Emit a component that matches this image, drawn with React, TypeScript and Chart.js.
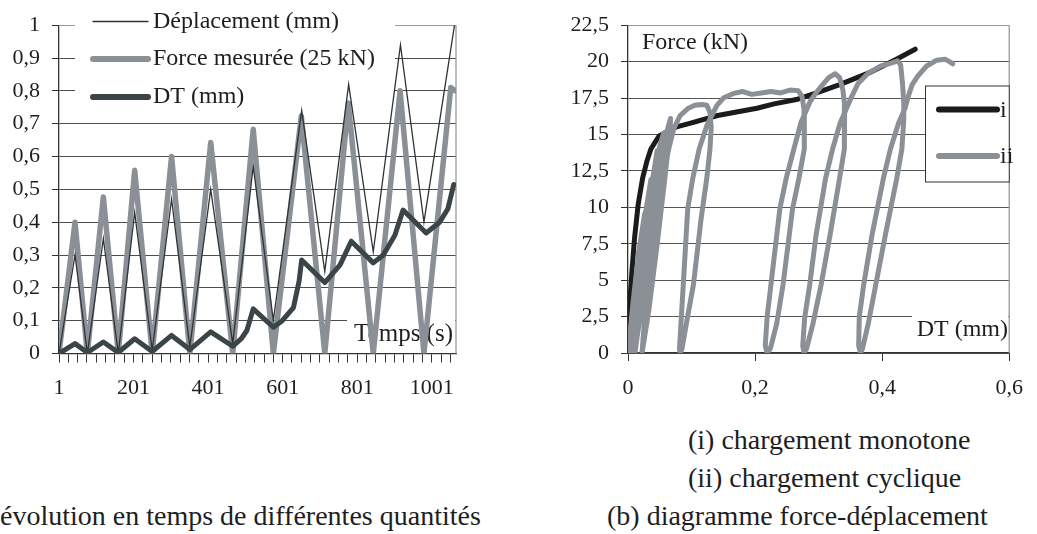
import React, { useEffect, useRef } from 'react';
import { Chart, registerables } from 'chart.js';
Chart.register(...registerables);

const FONT = '"Liberation Serif", "Times New Roman", serif';
const INK = '#1e1e1e';
const GREY = '#8a9096';
const DARK = '#3b4446';

// ---------- (a) time evolution ----------
const timeLabels = [1, 201, 401, 601, 801, 1001];
const timeMin = 1;
const timeMax = 1066;
const timeMinorStep = 25;
const leftSeriesNames = ['Déplacement (mm)', 'Force mesurée (25 kN)', 'DT (mm)'];

const deplT = [1, 44, 77, 120, 160, 204, 251, 303, 352, 408, 467, 522, 576, 652, 714, 778, 844, 917, 980, 1062];
const deplV = [0, 0.30, 0.0, 0.35, 0.0, 0.43, 0.01, 0.47, 0.02, 0.50, 0.03, 0.57, 0.10, 0.74, 0.25, 0.82, 0.31, 0.94, 0.40, 1.0];

const forceT = [1, 44, 77, 120, 160, 204, 251, 303, 352, 408, 467, 522, 576, 651, 714, 777, 844, 916, 980, 1052, 1064];
const forceV = [0, 0.40, 0, 0.477, 0, 0.558, 0, 0.60, 0, 0.643, 0, 0.683, 0, 0.723, 0, 0.763, 0, 0.80, 0, 0.81, 0.80];

const dtT = [1, 44, 77, 120, 160, 204, 251, 303, 352, 408, 467, 490, 505, 522, 576, 600, 630, 645, 652, 714, 755, 785, 844, 871, 902, 924, 986, 1022, 1044, 1060];
const dtV = [0, 0.03, 0.003, 0.035, 0.003, 0.045, 0.006, 0.055, 0.012, 0.066, 0.022, 0.045, 0.07, 0.136, 0.08, 0.10, 0.14, 0.22, 0.285, 0.216, 0.27, 0.342, 0.276, 0.30, 0.36, 0.437, 0.367, 0.40, 0.44, 0.515];

// ---------- (b) force-displacement ----------
const fdSeriesNames = ['i', 'ii'];
const monoX = [0, 0.002, 0.006, 0.0103, 0.016, 0.023, 0.030, 0.036, 0.049, 0.075, 0.100, 0.141, 0.203, 0.230, 0.265, 0.300, 0.332, 0.383, 0.424, 0.452];
const monoY = [0, 2.9, 5.5, 7.9, 10.2, 12.0, 13.2, 14.0, 14.9, 15.5, 15.8, 16.3, 16.8, 17.1, 17.4, 17.9, 18.4, 19.3, 20.2, 20.85];

const cycX = [
  0, 0.008, 0.017, 0.026, 0.030,
  0.027, 0.019, 0.010, 0.003, 0.002,
  0.010, 0.020, 0.029, 0.036,
  0.032, 0.022, 0.012, 0.004, 0.003,
  0.013, 0.025, 0.036, 0.046,
  0.042, 0.031, 0.018, 0.008, 0.006,
  0.017, 0.030, 0.042, 0.050, 0.056,
  0.052, 0.040, 0.026, 0.014, 0.011,
  0.022, 0.035, 0.047, 0.057, 0.063, 0.067,
  0.066, 0.058, 0.046, 0.033, 0.024, 0.022,
  0.028, 0.039, 0.049, 0.057, 0.064, 0.072, 0.082, 0.095, 0.105, 0.116, 0.124, 0.129,
  0.131, 0.129, 0.124, 0.115, 0.103, 0.093, 0.085, 0.082,
  0.081, 0.084, 0.087, 0.094, 0.102, 0.112, 0.124, 0.133, 0.140, 0.150, 0.165, 0.180, 0.195, 0.210, 0.225, 0.240, 0.255, 0.268, 0.274, 0.277,
  0.278, 0.277, 0.269, 0.259, 0.244, 0.234, 0.224, 0.219,
  0.216, 0.219, 0.225, 0.239, 0.249, 0.261, 0.272, 0.280, 0.287, 0.296, 0.306, 0.316, 0.326, 0.333, 0.338, 0.341,
  0.341, 0.340, 0.333, 0.318, 0.304, 0.291, 0.281, 0.277,
  0.275, 0.278, 0.286, 0.296, 0.311, 0.322, 0.334, 0.344, 0.352, 0.362, 0.378, 0.398, 0.414, 0.424, 0.429, 0.432, 0.434,
  0.434, 0.431, 0.423, 0.405, 0.390, 0.378, 0.369, 0.366,
  0.363, 0.364, 0.371, 0.384, 0.402, 0.413, 0.426, 0.436, 0.441, 0.447, 0.456, 0.470, 0.486, 0.499, 0.506, 0.511,
];
const cycY = [
  0, 3.5, 7, 9.5, 10.0,
  8.5, 5.5, 2.5, 0.3, 0,
  3.2, 7, 10, 11.9,
  10, 6.3, 3, 0.5, 0,
  3.8, 7.8, 11.2, 13.9,
  12, 8, 3.8, 0.6, 0,
  4, 8.5, 12, 14.2, 15.1,
  13.5, 9.2, 4.5, 1, 0,
  3.6, 7.8, 11.4, 14.2, 15.5, 16.1,
  15.2, 12, 7.5, 3, 0.5, 0,
  3.4, 6.8, 9.9, 12.4, 14.0, 15.4, 16.3, 16.8, 17.0, 17.06, 17.0, 16.5,
  15.5, 14, 12, 9.2, 4.7, 2.3, 0.3, 0,
  0.3, 2.5, 4.7, 9.9, 12, 14, 15.6, 16.4, 17.0, 17.5, 17.8, 17.95, 17.75, 17.85, 17.95, 17.85, 18.05, 18.0, 17.6, 16.7,
  16, 14, 12, 9.9, 4.7, 2.0, 0.3, 0,
  0.5, 2.5, 4.7, 9.9, 12, 14, 15.8, 16.6, 17.3, 17.86, 18.4, 18.9, 19.17, 18.9, 18.1, 17.0,
  16.0, 14, 12, 8.1, 4.7, 2.0, 0.3, 0,
  0.5, 2.4, 4.7, 8.1, 12, 14, 15.8, 16.8, 17.6, 18.5, 19.2, 19.7, 19.9, 20.05, 19.8, 18.5, 17.2,
  16.0, 14, 12, 8.1, 4.7, 2.0, 0.3, 0,
  0.5, 2.5, 4.7, 8.1, 12, 14, 15.8, 16.8, 17.6, 18.4, 19.0, 19.7, 20.1, 20.17, 20.0, 19.85,
];

const zip = (xs: number[], ys: number[]) => xs.map((x, i) => ({ x, y: ys[i] }));
const comma = (v: number, d: number) => {
  if (Math.abs(v - Math.round(v)) < 1e-9) return String(Math.round(v));
  return v.toFixed(d).replace('.', ',');
};

function LeftChart() {
  const ref = useRef<HTMLCanvasElement | null>(null);
  useEffect(() => {
    const canvas = ref.current!;
    const minor: number[] = [];
    for (let v = timeMin; v <= timeMax; v += timeMinorStep) minor.push(v);
    const plugin = {
      id: 'leftDecor',
      beforeDatasetsDraw(chart: any) {
        const { ctx, chartArea: a } = chart;
        ctx.save();
        // white boxes behind the axis title and the legend (they hide gridlines, not the series)
        ctx.fillStyle = '#fff';
        ctx.fillRect(347, 317, a.right - 347 - 1, 33);
        ctx.fillRect(75, 5, 320, 106);
        ctx.strokeStyle = '#9a9a9a';
        ctx.lineWidth = 1.3;
        ctx.beginPath();
        ctx.moveTo(a.right, a.top);
        ctx.lineTo(a.right, a.bottom);
        ctx.stroke();
        ctx.font = `25px ${FONT}`;
        ctx.fillStyle = INK;
        ctx.textAlign = 'right';
        ctx.textBaseline = 'middle';
        ctx.fillText('Temps (s)', 453, 334);
        // legend
        const rows = [21.5, 59, 97];
        const styles = [
          { c: '#2e3436', w: 1.4 },
          { c: GREY, w: 6 },
          { c: DARK, w: 6 },
        ];
        ctx.lineCap = 'round';
        rows.forEach((y, i) => {
          ctx.strokeStyle = styles[i].c;
          ctx.lineWidth = styles[i].w;
          ctx.beginPath();
          ctx.moveTo(93, y);
          ctx.lineTo(148, y);
          ctx.stroke();
          ctx.font = `24px ${FONT}`;
          ctx.fillStyle = INK;
          ctx.textAlign = 'left';
          ctx.textBaseline = 'middle';
          ctx.fillText(chart.data.datasets[i].label, 153, y);
        });
        ctx.restore();
      },
    };
    const chart = new Chart(canvas, {
      type: 'scatter',
      data: {
        datasets: [
          { label: leftSeriesNames[0], data: zip(deplT, deplV), showLine: true, borderColor: '#2e3436', borderWidth: 1.3, pointRadius: 0, order: 1, tension: 0 },
          { label: leftSeriesNames[1], data: zip(forceT, forceV), showLine: true, borderColor: GREY, borderWidth: 5.5, pointRadius: 0, order: 2, tension: 0, borderJoinStyle: 'round', borderCapStyle: 'round' },
          { label: leftSeriesNames[2], data: zip(dtT, dtV), showLine: true, borderColor: DARK, borderWidth: 5, pointRadius: 0, order: 0, tension: 0, borderJoinStyle: 'round', borderCapStyle: 'round' },
        ],
      },
      options: {
        animation: false,
        responsive: false,
        events: [],
        layout: { padding: { top: 21.7, right: 14, left: 0, bottom: 0 } },
        plugins: { legend: { display: false }, tooltip: { enabled: false } },
        scales: {
          x: {
            type: 'linear',
            min: timeMin,
            max: timeMax,
            afterBuildTicks: (s: any) => { s.ticks = minor.map((v) => ({ value: v })); },
            afterFit: (s: any) => { s.height = 46.5; },
            ticks: {
              autoSkip: false,
              maxRotation: 0,
              padding: 13,
              color: INK,
              font: { family: FONT, size: 22 },
              callback: (v: any) => (timeLabels.includes(v) ? String(v) : ''),
            },
            grid: { drawOnChartArea: false, drawTicks: true, tickLength: 9, color: '#333', tickWidth: 1 },
            border: { display: true, color: '#333', width: 1.3 },
          },
          y: {
            min: 0,
            max: 1,
            afterFit: (s: any) => { s.width = 59; },
            ticks: {
              stepSize: 0.1,
              padding: 12,
              color: INK,
              font: { family: FONT, size: 22 },
              callback: (v: any) => comma(Number(v), 1),
            },
            grid: {
              color: (c: any) => (c.tick && c.tick.value > 0.999 ? '#9a9a9a' : '#4d4d4d'),
              lineWidth: 1,
              tickLength: 7,
              tickColor: '#333',
            },
            border: { display: true, color: '#333', width: 1.3 },
          },
        },
      },
      plugins: [plugin],
    } as any);
    return () => chart.destroy();
  }, []);
  return <canvas ref={ref} width={470} height={400} style={{ position: 'absolute', left: 0, top: 0 }} />;
}

function RightChart() {
  const ref = useRef<HTMLCanvasElement | null>(null);
  useEffect(() => {
    const canvas = ref.current!;
    const plugin = {
      id: 'rightDecor',
      beforeDatasetsDraw(chart: any) {
        const { ctx, chartArea: a } = chart;
        ctx.save();
        ctx.fillStyle = '#fff';
        ctx.fillRect(352, 300, a.right - 352 - 1, 50);
        ctx.strokeStyle = '#9a9a9a';
        ctx.lineWidth = 1.3;
        ctx.beginPath();
        ctx.moveTo(a.right, a.top);
        ctx.lineTo(a.right, a.bottom);
        ctx.stroke();
        ctx.font = `24px ${FONT}`;
        ctx.fillStyle = INK;
        ctx.textBaseline = 'middle';
        ctx.textAlign = 'right';
        ctx.fillText('DT (mm)', 448, 330);
        ctx.textAlign = 'left';
        ctx.fillText('Force (kN)', 82, 43);
        ctx.restore();
      },
      afterDatasetsDraw(chart: any) {
        const { ctx, chartArea: a } = chart;
        ctx.save();
        const bx = 365.5, by = 86, bw = a.right - bx, bh = 96;
        ctx.fillStyle = '#fff';
        ctx.fillRect(bx, by, bw, bh);
        ctx.strokeStyle = '#333';
        ctx.lineWidth = 1;
        ctx.strokeRect(bx, by, bw, bh);
        const rows = [109.5, 156];
        const cols = ['#1b1b1b', GREY];
        ctx.lineCap = 'round';
        rows.forEach((y, i) => {
          ctx.strokeStyle = cols[i];
          ctx.lineWidth = 6;
          ctx.beginPath();
          ctx.moveTo(379, y);
          ctx.lineTo(437, y);
          ctx.stroke();
          ctx.font = `24px ${FONT}`;
          ctx.fillStyle = INK;
          ctx.textAlign = 'left';
          ctx.textBaseline = 'middle';
          ctx.fillText(chart.data.datasets[i].label, 440, y + 1);
        });
        ctx.restore();
      },
    };
    const chart = new Chart(canvas, {
      type: 'scatter',
      data: {
        datasets: [
          { label: fdSeriesNames[0], data: zip(monoX, monoY), showLine: true, borderColor: '#1b1b1b', borderWidth: 5, pointRadius: 0, order: 1, tension: 0, borderJoinStyle: 'round', borderCapStyle: 'round' },
          { label: fdSeriesNames[1], data: zip(cycX, cycY), showLine: true, borderColor: GREY, borderWidth: 5, pointRadius: 0, order: 0, tension: 0, borderJoinStyle: 'round', borderCapStyle: 'round' },
        ],
      },
      options: {
        animation: false,
        responsive: false,
        events: [],
        layout: { padding: { top: 21.7, right: 20, left: 0, bottom: 0 } },
        plugins: { legend: { display: false }, tooltip: { enabled: false } },
        scales: {
          x: {
            type: 'linear',
            min: 0,
            max: 0.6,
            afterFit: (s: any) => { s.height = 46; },
            ticks: {
              stepSize: 0.2,
              autoSkip: false,
              maxRotation: 0,
              padding: 14,
              color: INK,
              font: { family: FONT, size: 22 },
              callback: (v: any) => comma(Number(v), 1),
            },
            grid: { drawOnChartArea: false, drawTicks: true, tickLength: 8, color: '#333' },
            border: { display: true, color: '#333', width: 1.3 },
          },
          y: {
            min: 0,
            max: 22.5,
            afterFit: (s: any) => { s.width = 68; },
            ticks: {
              stepSize: 2.5,
              padding: 12,
              color: INK,
              font: { family: FONT, size: 22 },
              callback: (v: any) => comma(Number(v), 1),
            },
            grid: {
              color: (c: any) => (c.tick && c.tick.value > 22.4 ? '#9a9a9a' : '#555'),
              lineWidth: 1,
              tickLength: 7,
              tickColor: '#333',
            },
            border: { display: true, color: '#333', width: 1.3 },
          },
        },
      },
      plugins: [plugin],
    } as any);
    return () => chart.destroy();
  }, []);
  return <canvas ref={ref} width={477} height={399} style={{ position: 'absolute', left: 560, top: 0 }} />;
}

const captionStyle: React.CSSProperties = {
  position: 'absolute',
  fontFamily: FONT,
  fontSize: 28,
  lineHeight: '32px',
  color: INK,
  whiteSpace: 'nowrap',
};

export default function App() {
  return (
    <div style={{ position: 'absolute', left: 0, top: 0, width: 1037, height: 534, background: '#fff', overflow: 'hidden' }}>
      <LeftChart />
      <RightChart />
      <div style={{ ...captionStyle, left: 688, top: 424 }}>(i) chargement monotone</div>
      <div style={{ ...captionStyle, left: 688, top: 462 }}>(ii) chargement cyclique</div>
      <div style={{ ...captionStyle, left: 607, top: 500 }}>(b) diagramme force-déplacement</div>
      <div style={{ ...captionStyle, left: 0, top: 500 }}>
        <span style={{ position: 'absolute', right: '100%' }}>(a)&nbsp;</span>
        évolution en temps de différentes quantités
      </div>
    </div>
  );
}
